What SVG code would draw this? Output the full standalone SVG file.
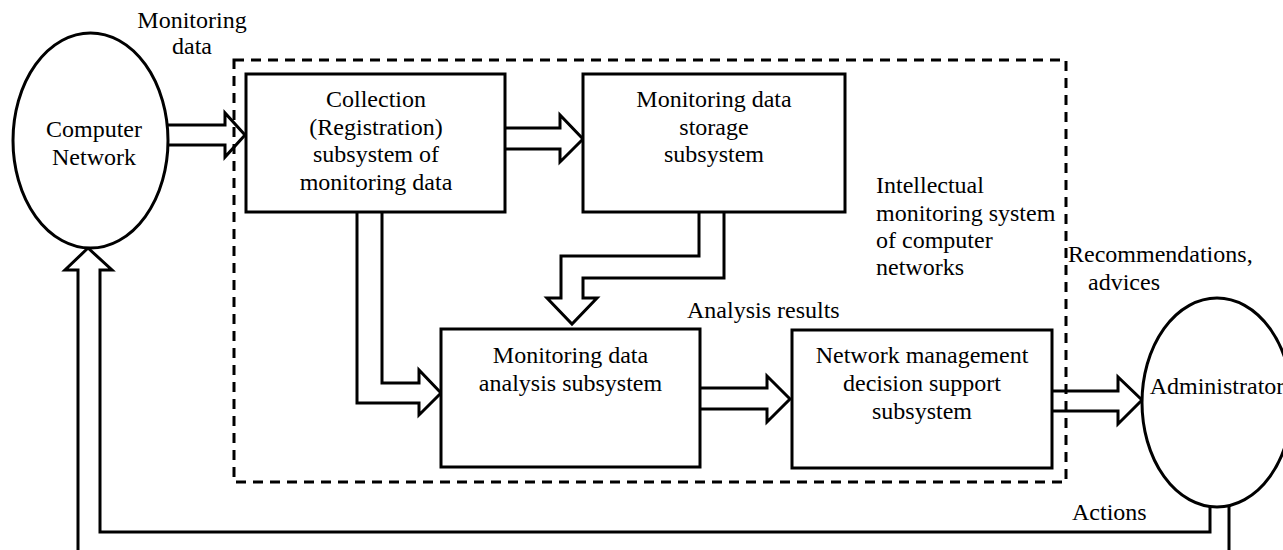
<svg xmlns="http://www.w3.org/2000/svg" width="1283" height="550" viewBox="0 0 1283 550">
  <style>
    .ln { fill: none; stroke: #000; stroke-width: 3; }
    .box { fill: #fff; stroke: #000; stroke-width: 3; }
    .frame { fill: none; stroke: #000; stroke-width: 3; stroke-dasharray: 10 7; }
    text { font-family: "Liberation Serif", "Times New Roman", serif; font-size: 24px; fill: #000; }
    .c { text-anchor: middle; }
  </style>
  <rect width="1283" height="550" fill="#fff"/>

  <!-- system boundary -->
  <g id="system-frame">
    <rect class="frame" x="234" y="60" width="832" height="422"/>
    <text x="876" y="193">Intellectual</text>
    <text x="876" y="221">monitoring system</text>
    <text x="876" y="248">of computer</text>
    <text x="876" y="275">networks</text>
  </g>

  <!-- block arrows -->
  <g id="connectors">
    <polyline class="ln" points="168,125 225,125 225,113 245,135 225,157 225,145 168,145"/>
    <polyline class="ln" points="505,128 560,128 560,115 583,139 560,162 560,149 505,149"/>
    <polyline class="ln" points="357,212 357,403 419,403 419,415 441,393 419,370 419,383 382,383 382,212"/>
    <polyline class="ln" points="699,212 699,256 561,256 561,298 547,298 572,324 597,298 583,298 583,278 724,278 724,212"/>
    <polyline class="ln" points="700,388 767,388 767,376 790,399 767,422 767,409 700,409"/>
    <polyline class="ln" points="1052,391 1118,391 1118,377 1142,400 1118,424 1118,411 1052,411"/>
    <polyline class="ln" points="1210,505 1210,532 100,532 100,270 112,270 88,248 65,270 78,270 78,556"/>
    <polyline class="ln" points="1229,505 1229,556"/>
    <text class="c" x="192" y="28">Monitoring</text>
    <text class="c" x="192" y="54">data</text>
    <text x="687" y="318">Analysis results</text>
    <text x="1068" y="262">Recommendations,</text>
    <text x="1088" y="290">advices</text>
    <text x="1072" y="520">Actions</text>
  </g>

  <g id="computer-network">
    <ellipse class="box" cx="90.5" cy="140.5" rx="77.5" ry="107.5"/>
    <text class="c" x="94" y="137">Computer</text>
    <text class="c" x="94" y="165">Network</text>
  </g>

  <g id="collection">
    <rect class="box" x="246" y="74" width="259" height="138"/>
    <text class="c" x="376" y="107">Collection</text>
    <text class="c" x="376" y="135">(Registration)</text>
    <text class="c" x="376" y="162">subsystem of</text>
    <text class="c" x="376" y="190">monitoring data</text>
  </g>

  <g id="storage">
    <rect class="box" x="583" y="74" width="262" height="138"/>
    <text class="c" x="714" y="107">Monitoring data</text>
    <text class="c" x="714" y="135">storage</text>
    <text class="c" x="714" y="162">subsystem</text>
  </g>

  <g id="analysis">
    <rect class="box" x="441" y="329" width="259" height="138"/>
    <text class="c" x="570.5" y="363">Monitoring data</text>
    <text class="c" x="570.5" y="391">analysis subsystem</text>
  </g>

  <g id="decision-support">
    <rect class="box" x="792" y="330" width="260" height="138"/>
    <text class="c" x="922" y="363">Network management</text>
    <text class="c" x="922" y="391">decision support</text>
    <text class="c" x="922" y="419">subsystem</text>
  </g>

  <g id="administrator">
    <ellipse class="box" cx="1217" cy="402.5" rx="75" ry="104.5"/>
    <text class="c" x="1217" y="394">Administrator</text>
  </g>
</svg>
